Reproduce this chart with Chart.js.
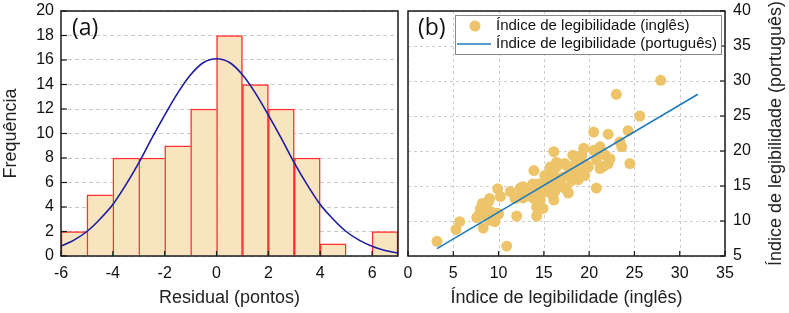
<!DOCTYPE html>
<html>
<head>
<meta charset="utf-8">
<script src="https://cdn.jsdelivr.net/npm/chart.js@4.4.1/dist/chart.umd.min.js"></script>
<style>
  body { margin: 0; background: #fff; }
  #wrap { position: relative; width: 789px; height: 313px; }
  .panel { position: absolute; top: 0; height: 313px; }
</style>
</head>
<body>
<div id="wrap">
  <div class="panel" style="left:0;width:400px"><canvas id="histChart"></canvas></div>
  <div class="panel" style="left:400px;width:389px"><canvas id="scatterChart"></canvas></div>
</div>
<script>
// (a) histogram of residuals
const binStarts = [-6, -5, -4, -3, -2, -1, 0, 1, 2, 3, 4, 5, 6];
const binCounts = [2, 5, 8, 8, 9, 12, 18, 14, 12, 8, 1, 0, 2];
const curveX = [-6, -5.5, -5, -4.5, -4, -3.5, -3, -2.5, -2, -1.5, -1, -0.5, 0, 0.5, 1, 1.5, 2, 2.5, 3, 3.5, 4, 4.5, 5, 5.5, 6, 6.5, 7];
const curveY = [0.8, 1.3, 2.0, 3.0, 4.2, 5.8, 7.6, 9.6, 11.5, 13.3, 14.8, 15.8, 16.1, 15.8, 14.8, 13.3, 11.5, 9.6, 7.6, 5.8, 4.2, 3.0, 2.0, 1.3, 0.8, 0.45, 0.25];
const histXTicks = [-6, -4, -2, 0, 2, 4, 6];
const histYTicks = [0, 2, 4, 6, 8, 10, 12, 14, 16, 18, 20];

// (b) english vs portuguese readability index
const engIndex = [3.2, 5.3, 5.7, 7.6, 7.9, 8.0, 8.2, 8.3, 8.5, 8.6, 8.7, 9.0, 9.0, 9.2, 9.6, 9.8, 8.9, 9.9, 10.2, 10.0,
  10.9, 11.3, 12.0, 12.4, 12.7, 12.7, 13.1, 13.3, 13.9, 13.8, 13.9, 14.2, 14.2, 14.6, 14.6, 14.9, 14.0, 15.0, 15.3, 15.5,
  15.7, 15.7, 16.1, 16.1, 16.1, 16.0, 16.4, 16.4, 16.4, 16.2, 16.8, 17.1, 17.3, 17.2, 17.5, 17.7, 17.9, 18.1, 18.2, 18.3,
  18.6, 18.8, 19.0, 19.0, 19.4, 19.7, 19.9, 19.5, 20.5, 20.5, 20.8, 20.8, 21.2, 21.2, 21.6, 21.6, 22.1, 22.1, 22.3, 21.8,
  23.0, 23.4, 23.6, 24.3, 24.5, 25.6, 27.9, 14.4, 15.1, 13.5, 12.5, 11.8, 17.6, 18.5, 19.2, 16.6, 17.9, 15.8, 14.8];
const ptIndex = [7.1, 8.8, 9.9, 10.5, 11.0, 11.8, 12.5, 9.0, 10.8, 12.2, 11.6, 13.2, 10.1, 11.3, 9.9, 11.1, 12.8, 14.6, 13.5, 11.0,
  6.4, 14.2, 10.7, 14.7, 13.3, 14.9, 14.2, 13.6, 17.2, 15.3, 13.2, 12.0, 10.7, 14.6, 13.0, 11.8, 14.1, 15.0, 15.8, 14.4,
  17.7, 15.2, 19.9, 15.4, 13.0, 16.8, 17.7, 16.1, 18.4, 14.2, 15.4, 16.3, 18.2, 14.8, 14.5, 14.0, 17.0, 15.8, 19.4, 16.3,
  17.3, 15.9, 18.7, 17.0, 20.4, 18.0, 17.7, 16.5, 22.7, 20.1, 18.7, 14.7, 20.6, 17.5, 19.6, 17.8, 22.4, 18.2, 18.9, 19.4,
  28.1, 21.3, 20.6, 22.9, 18.2, 25.0, 30.1, 15.3, 16.5, 14.8, 13.8, 13.2, 17.8, 18.2, 19.4, 15.0, 16.5, 13.9, 14.0];
const fitX = [3.2, 32.0];
const fitY = [6.05, 28.1];
const scatXTicks = [0, 5, 10, 15, 20, 25, 30, 35];
const scatYTicks = [5, 10, 15, 20, 25, 30, 35, 40];

Chart.defaults.font.family = '"Liberation Sans", Arial, sans-serif';
Chart.defaults.color = '#111';

const setTicks = arr => scale => { scale.ticks = arr.map(v => ({ value: v })); };
// fixed axis band, and no extra room claimed for edge labels
const fixHeight = h => s => { s.height = h; s.paddingLeft = 0; s.paddingRight = 0; };
const fixWidth = w => s => { s.width = w; s.paddingTop = 0; s.paddingBottom = 0; };

// dashed grid, box around plot area, inward tick marks, panel letter
const framePlugin = {
  id: 'frame',
  beforeDatasetsDraw(chart, args, opts) {
    if (!opts.grid) return;
    const { ctx, chartArea: a } = chart;
    ctx.save();
    ctx.strokeStyle = opts.grid.color;
    ctx.lineWidth = 1;
    ctx.setLineDash(opts.grid.dash);
    chart.scales.x.ticks.forEach(tk => {
      const p = Math.round(chart.scales.x.getPixelForValue(tk.value)) + 0.5;
      ctx.beginPath(); ctx.moveTo(p, a.top); ctx.lineTo(p, a.bottom); ctx.stroke();
    });
    chart.scales.y.ticks.forEach(tk => {
      const p = Math.round(chart.scales.y.getPixelForValue(tk.value)) + 0.5;
      ctx.beginPath(); ctx.moveTo(a.left, p); ctx.lineTo(a.right, p); ctx.stroke();
    });
    ctx.restore();
  },
  afterDatasetsDraw(chart, args, opts) {
    const { ctx, chartArea: a } = chart;
    ctx.save();
    ctx.strokeStyle = '#1a1a1a';
    ctx.lineWidth = 1.2;
    opts.ticks.forEach(t => {
      const s = chart.scales[t.id];
      s.ticks.forEach(tk => {
        const p = s.getPixelForValue(tk.value);
        ctx.beginPath();
        if (t.side === 'bottom') { ctx.moveTo(p, a.bottom); ctx.lineTo(p, a.bottom - 5); }
        if (t.side === 'left') { ctx.moveTo(a.left, p); ctx.lineTo(a.left + 6, p); }
        if (t.side === 'right') { ctx.moveTo(a.right, p); ctx.lineTo(a.right - 5, p); }
        ctx.stroke();
      });
    });
    ctx.lineWidth = 1.5;
    ctx.strokeRect(a.left, a.top, a.right - a.left, a.bottom - a.top);
    ctx.fillStyle = '#111';
    ctx.font = '23px "Open Sans", sans-serif';
    ctx.textBaseline = 'middle';
    ctx.fillText(opts.label, a.left + opts.dx, a.top + 17);
    ctx.restore();
  }
};

// (a)
new Chart(document.getElementById('histChart'), {
  type: 'bar',
  data: {
    datasets: [{
      type: 'line',
      data: curveX.map((x, i) => ({ x, y: curveY[i] })),
      borderColor: '#1c1ca0',
      borderWidth: 1.6,
      pointRadius: 0,
      cubicInterpolationMode: 'monotone',
      order: 0
    }, {
      data: binStarts.map((x, i) => ({ x: x + 0.5, y: binCounts[i] })),
      backgroundColor: '#f8e4bf',
      borderColor: '#ff3030',
      borderWidth: ctx => {
        const i = ctx.dataIndex;
        const next = i < binCounts.length - 1 ? binCounts[i + 1] : 0;
        return { left: 1.5, top: 1.5, right: next < binCounts[i] ? 1.5 : 0, bottom: 0 };
      },
      barPercentage: 1,
      categoryPercentage: 1,
      order: 1
    }]
  },
  options: {
    responsive: true,
    maintainAspectRatio: false,
    animation: false,
    layout: { padding: { left: 0, right: 2, top: 11, bottom: 0 } },
    plugins: {
      legend: { display: false },
      tooltip: { enabled: false },
      frame: { label: '(a)', dx: 11, ticks: [{ id: 'x', side: 'bottom' }, { id: 'y', side: 'left' }] }
    },
    scales: {
      x: {
        type: 'linear',
        min: -6, max: 7,
        offset: false,
        afterBuildTicks: setTicks(histXTicks),
        afterFit: fixHeight(57),
        grid: { display: false, drawTicks: false },
        border: { display: false },
        ticks: { font: { size: 16 }, padding: 8, autoSkip: false, maxRotation: 0, color: '#111' },
        title: { display: true, text: 'Residual (pontos)', font: { size: 18 }, color: '#222', padding: { top: 0, bottom: 4 } }
      },
      y: {
        min: 0, max: 20,
        afterBuildTicks: setTicks(histYTicks),
        afterFit: fixWidth(61),
        grid: { color: '#c8c8c8', drawTicks: false, lineWidth: 1 },
        border: { display: false, dash: [4, 3] },
        ticks: { font: { size: 16 }, padding: 7, color: '#111' },
        title: { display: true, text: 'Frequência', font: { size: 18 }, color: '#222', padding: { top: 0, bottom: 0 } }
      }
    }
  },
  plugins: [framePlugin]
});

// legend and right-hand title for (b)
const legendPlugin = {
  id: 'boxLegend',
  afterDraw(chart) {
    const { ctx, chartArea: a } = chart;
    const ds = chart.data.datasets;
    const x0 = a.left + 47, y0 = a.top + 4, w = a.right - 4 - x0, h = 39;
    ctx.save();
    ctx.fillStyle = 'rgba(255,255,255,0.9)';
    ctx.fillRect(x0, y0, w, h);
    ctx.strokeStyle = '#8a8a8a';
    ctx.lineWidth = 1;
    ctx.strokeRect(x0 + 0.5, y0 + 0.5, w, h);
    ctx.font = '15px "Liberation Sans", Arial, sans-serif';
    ctx.textBaseline = 'middle';
    // points entry
    ctx.beginPath();
    ctx.arc(x0 + 20, y0 + 11, 5.5, 0, Math.PI * 2);
    ctx.fillStyle = ds[1].backgroundColor;
    ctx.fill();
    ctx.fillStyle = '#111';
    ctx.fillText(ds[1].label, x0 + 41, y0 + 11);
    // line entry
    ctx.beginPath();
    ctx.moveTo(x0 + 2, y0 + 29);
    ctx.lineTo(x0 + 36, y0 + 29);
    ctx.strokeStyle = ds[0].borderColor;
    ctx.lineWidth = 1.6;
    ctx.stroke();
    ctx.fillText(ds[0].label, x0 + 41, y0 + 29);
    // right axis title, reading upwards
    const sy = chart.scales.y;
    ctx.translate(sy.right - 13, (a.top + a.bottom) / 2);
    ctx.rotate(-Math.PI / 2);
    ctx.textAlign = 'center';
    ctx.font = '18px "Liberation Sans", Arial, sans-serif';
    ctx.fillStyle = '#222';
    ctx.fillText('Índice de legibilidade (português)', 0, 0);
    ctx.restore();
  }
};

// (b)
new Chart(document.getElementById('scatterChart'), {
  type: 'scatter',
  data: {
    datasets: [{
      type: 'line',
      label: 'Índice de legibilidade (português)',
      data: fitX.map((x, i) => ({ x, y: fitY[i] })),
      borderColor: '#1f7bbf',
      borderWidth: 1.6,
      pointRadius: 0,
      order: 0
    }, {
      label: 'Índice de legibilidade (inglês)',
      data: engIndex.map((x, i) => ({ x, y: ptIndex[i] })),
      backgroundColor: '#edc46a',
      borderWidth: 0,
      pointRadius: 5.5,
      order: 1
    }]
  },
  options: {
    responsive: true,
    maintainAspectRatio: false,
    animation: false,
    layout: { padding: { left: 8, right: 0, top: 11, bottom: 0 } },
    plugins: {
      legend: { display: false },
      tooltip: { enabled: false },
      frame: {
        label: '(b)', dx: 10,
        grid: { color: '#cdcdcd', dash: [3, 3] },
        ticks: [{ id: 'x', side: 'bottom' }, { id: 'y', side: 'right' }]
      }
    },
    scales: {
      x: {
        type: 'linear',
        min: 0, max: 35,
        afterBuildTicks: setTicks(scatXTicks),
        afterFit: fixHeight(57),
        grid: { display: false, drawTicks: false },
        border: { display: false },
        ticks: { font: { size: 16 }, padding: 8, autoSkip: false, maxRotation: 0, color: '#111' },
        title: { display: true, text: 'Índice de legibilidade (inglês)', font: { size: 18 }, color: '#222', padding: { top: 0, bottom: 4 } }
      },
      y: {
        position: 'right',
        min: 5, max: 40,
        afterBuildTicks: setTicks(scatYTicks),
        afterFit: fixWidth(64),
        grid: { display: false, drawTicks: false },
        border: { display: false },
        ticks: { font: { size: 16 }, padding: 8, color: '#111' }
      }
    }
  },
  plugins: [framePlugin, legendPlugin]
});
</script>
</body>
</html>
